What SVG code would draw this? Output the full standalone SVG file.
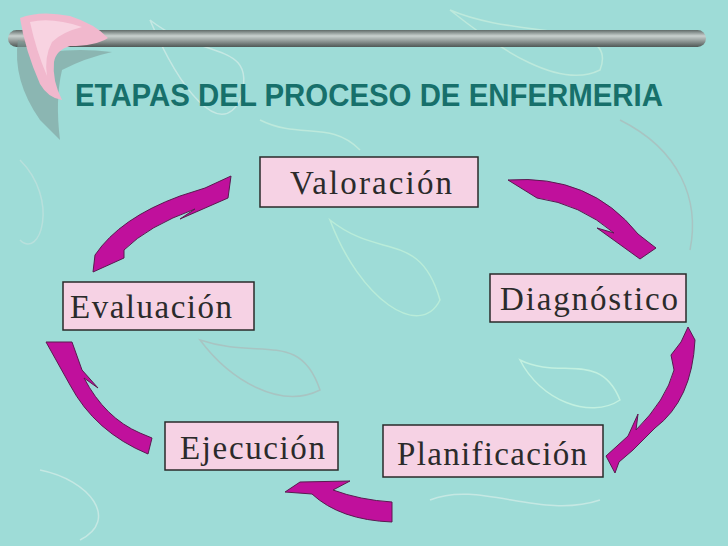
<svg xmlns="http://www.w3.org/2000/svg" width="728" height="546" viewBox="0 0 728 546">
<defs>
<linearGradient id="bar" x1="0" y1="0" x2="0" y2="1"><stop offset="0" stop-color="#5f6a68"/><stop offset="0.35" stop-color="#c9d1cf"/><stop offset="1" stop-color="#4f5856"/></linearGradient>
<style>
.node rect{fill:#f6d2e4;stroke:#2a2a2a;stroke-width:1.5}
.node text{font-family:"Liberation Serif",serif;font-size:33px;fill:#2b2b2b}
.arr path{fill:#c0109c;stroke:#5a1a50;stroke-width:1}
.bg path{fill:none;stroke-width:1.5}
</style>
</defs>
<rect width="728" height="546" fill="#9edcd7"/>
<g class="bg">
<path d="M150,20 C200,60 260,40 240,100 C220,140 180,90 150,20Z" stroke="#c5e8e3"/>
<path d="M450,10 C520,40 620,20 600,70 C560,90 500,50 450,10Z" stroke="#bde9dc"/>
<path d="M20,160 C60,200 40,260 20,240" stroke="#b8e0dc"/>
<path d="M330,220 C380,260 420,230 440,300 C420,340 360,300 330,220Z" stroke="#b9ecd9"/>
<path d="M200,340 C260,360 300,330 320,390 C280,410 230,380 200,340Z" stroke="#a8c4c2"/>
<path d="M520,360 C560,380 600,350 620,400 C590,420 540,400 520,360Z" stroke="#c2f0e0"/>
<path d="M40,470 C90,480 120,520 80,540" stroke="#c5e8e3"/>
<path d="M620,120 C680,150 700,200 690,250" stroke="#a8c4c2"/>
<path d="M260,120 C300,140 330,120 360,150" stroke="#bde9dc"/>
<path d="M430,500 C480,480 540,520 600,500" stroke="#c5e8e3"/>
</g>
<rect x="8" y="30" width="698" height="17" rx="8.5" fill="url(#bar)"/>
<path d="M18,40 Q12,80 40,120 L60,140 Q55,100 62,70 Q85,58 112,52 Q80,48 50,52Z" fill="#7e9d9a" opacity="0.6"/>
<path d="M20,18 Q40,10 70,16 Q95,24 108,38 Q95,46 70,46 Q56,50 54,62 Q52,80 62,100 Q48,98 40,84 Q25,50 20,18Z" fill="#f1b8cd"/>
<path d="M30,22 Q52,17 82,27 Q62,32 52,42 Q44,57 47,76 Q36,50 30,22Z" fill="#f8d3e1"/>
<text x="75" y="106" font-family="Liberation Sans,Arial,sans-serif" font-weight="bold" font-size="31" fill="#17706b" textLength="588" lengthAdjust="spacingAndGlyphs">ETAPAS DEL PROCESO DE ENFERMERIA</text>
<g id="connectors" class="arr">
<path d="M508,180 Q590,174 638,234 L656,248 L640,259 L597,228 L614,233 Q580,204 537,198 Z"/>
<path d="M688,327 L695,340 Q692,400 655,428 L633,450 L619,462 L615,473 L606,456 L628,436 L638,414 L636,430 Q666,400 674,370 L671,355 L681,342 Z"/>
<path d="M285,492 L300,482 L350,481 L333,490 Q360,500 392,502 L392,522 Q340,520 312,494 Z"/>
<path d="M46,342 L72,342 L82,370 L98,388 L84,378 Q105,418 140,433 L152,438 L148,454 Q95,432 70,385 Z"/>
<path d="M93,272 L95,255 Q120,218 180,196 L205,188 L231,176 L228,198 L180,219 L195,209 Q148,226 124,250 L124,258 Z"/>
</g>
<g id="valoracion" class="node"><rect x="260" y="157" width="218" height="50"/><text x="290" y="194" textLength="162" lengthAdjust="spacing">Valoración</text></g>
<g id="diagnostico" class="node"><rect x="490" y="274" width="196" height="48"/><text x="500" y="310" textLength="178" lengthAdjust="spacing">Diagnóstico</text></g>
<g id="evaluacion" class="node"><rect x="63" y="282" width="191" height="48"/><text x="70" y="318" textLength="162" lengthAdjust="spacing">Evaluación</text></g>
<g id="ejecucion" class="node"><rect x="165" y="422" width="173" height="48"/><text x="180" y="459" textLength="145" lengthAdjust="spacing">Ejecución</text></g>
<g id="planificacion" class="node"><rect x="383" y="425" width="220" height="52"/><text x="397" y="465" textLength="190" lengthAdjust="spacing">Planificación</text></g>
</svg>
